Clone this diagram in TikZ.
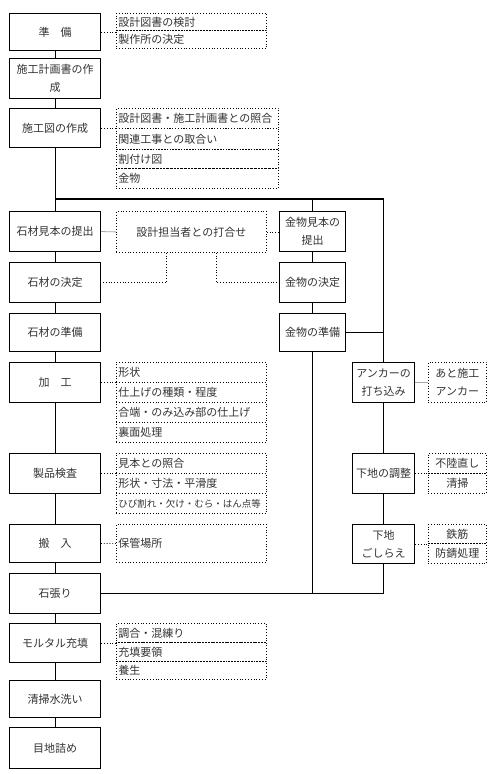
\documentclass[tikz,border=0pt]{standalone}
\usepackage{fontspec}
\newfontfamily\cjk{Noto Sans CJK JP}
\begin{document}
\begin{tikzpicture}[x=1pt,y=-1pt,
  box/.style={draw, line width=1.1pt, anchor=north west, inner sep=0pt, align=center, text=black!80, font=\cjk\fontsize{11}{18}\selectfont},
  lrow/.style={draw, dotted, line width=0.8pt, anchor=north west, inner xsep=2pt, inner ysep=0pt, text width=146pt, align=left, text=black!80, font=\cjk\fontsize{11}{14}\selectfont},
  lrowwide/.style={lrow, text width=158pt},
  rrow/.style={lrow, text width=54pt, align=center, font=\cjk\fontsize{11}{18}\selectfont},
  conn/.style={line width=1.1pt},
  dconn/.style={dotted, line width=0.8pt},
  gconn/.style={line width=0.8pt, black!35}]
\fill[white] (0,0) rectangle (500,774);
\useasboundingbox (0,0) rectangle (500,774);
% left column
\node[box, minimum width=91pt, minimum height=37pt] (b1) at (9,13) {準　備};
\node[box, minimum width=91pt, minimum height=40pt] (b2) at (9,58) {施工計画書の作\\成};
\node[box, minimum width=91pt, minimum height=39pt] (b3) at (9,108) {施工図の作成};
\node[box, minimum width=91pt, minimum height=40pt] (b4) at (9,211) {石材見本の提出};
\node[box, minimum width=91pt, minimum height=40pt] (b5) at (9,262) {石材の決定};
\node[box, minimum width=91pt, minimum height=38pt] (b6) at (9,313) {石材の準備};
\node[box, minimum width=91pt, minimum height=40pt] (b7) at (9,362) {加　工};
\node[box, minimum width=91pt, minimum height=40pt] (b8) at (9,453) {製品検査};
\node[box, minimum width=91pt, minimum height=38pt] (b9) at (9,524) {搬　入};
\node[box, minimum width=91pt, minimum height=40pt] (b10) at (9,573) {石張り};
\node[box, minimum width=91pt, minimum height=39pt] (b11) at (9,623) {モルタル充填};
\node[box, minimum width=91pt, minimum height=37pt] (b12) at (9,680) {清掃水洗い};
\node[box, minimum width=91pt, minimum height=41pt] (b13) at (9,727) {目地詰め};
% middle column
\node[box, minimum width=66pt, minimum height=40pt] (k1) at (279,211) {金物見本の\\提出};
\node[box, minimum width=66pt, minimum height=40pt] (k2) at (279,262) {金物の決定};
\node[box, minimum width=66pt, minimum height=38pt] (k3) at (279,313) {金物の準備};
% right column
\node[box, minimum width=62pt, minimum height=40pt] (r1) at (352,362) {アンカーの\\打ち込み};
\node[box, minimum width=62pt, minimum height=40pt] (r2) at (352,453) {下地の調整};
\node[box, minimum width=62pt, minimum height=39pt] (r3) at (352,524) {下地\\ごしらえ};
% lists
\node[lrow, minimum height=17pt] (l1a) at (116,13) {設計図書の検討};
\node[lrow, minimum height=18pt] (l1b) at (116,30) {製作所の決定};
\node[lrowwide, minimum height=20pt] (l3a) at (116,108) {設計図書・施工計画書との照合};
\node[lrowwide, minimum height=21pt] (l3b) at (116,128) {関連工事との取合い};
\node[lrowwide, minimum height=19pt] (l3c) at (116,149) {割付け図};
\node[lrowwide, minimum height=20pt] (l3d) at (116,168) {金物};
\node[lrow, align=center, minimum height=41pt] (meet) at (116,211) {設計担当者との打合せ};
\node[lrow, minimum height=20pt] (l7a) at (116,362) {形状};
\node[lrow, minimum height=20pt] (l7b) at (116,382) {仕上げの種類・程度};
\node[lrow, minimum height=20pt] (l7c) at (116,402) {合端・のみ込み部の仕上げ};
\node[lrow, minimum height=20pt] (l7d) at (116,422) {裏面処理};
\node[lrow, minimum height=20pt] (l8a) at (116,453) {見本との照合};
\node[lrow, minimum height=20pt] (l8b) at (116,473) {形状・寸法・平滑度};
\node[lrow, minimum height=20pt, font=\cjk\fontsize{9.5}{12}\selectfont] (l8c) at (116,493) {ひび割れ・欠け・むら・はん点等};
\node[lrow, minimum height=38pt] (l9) at (116,524) {保管場所};
\node[lrow, minimum height=19pt] (l11a) at (116,623) {調合・混練り};
\node[lrow, minimum height=19pt] (l11b) at (116,642) {充填要領};
\node[lrow, minimum height=18pt] (l11c) at (116,661) {養生};
\node[rrow, minimum height=40pt] (a1) at (428,362) {あと施工\\アンカー};
\node[rrow, minimum height=20pt] (a2a) at (428,453) {不陸直し};
\node[rrow, minimum height=20pt] (a2b) at (428,473) {清掃};
\node[rrow, minimum height=19pt] (a3a) at (428,524) {鉄筋};
\node[rrow, minimum height=20pt] (a3b) at (428,543) {防錆処理};
% main connectors
\coordinate (top) at (0,199);
\draw[conn] (b1.south) -- (b2.north);
\draw[conn] (b2.south) -- (b3.north);
\draw[conn] (b3.south) -- (b4.north);
\draw[conn] (b3.south |- top) -- (r1.north |- top) -- (r1.north);
\draw[conn] (k1.north |- top) -- (k1.north);
\draw[conn] (b4.south) -- (b5.north);
\draw[conn] (b5.south) -- (b6.north);
\draw[conn] (b6.south) -- (b7.north);
\draw[conn] (b7.south) -- (b8.north);
\draw[conn] (b8.south) -- (b9.north);
\draw[conn] (b9.south) -- (b10.north);
\draw[conn] (b10.south) -- (b11.north);
\draw[conn] (b11.south) -- (b12.north);
\draw[conn] (b12.south) -- (b13.north);
\draw[conn] (k1.south) -- (k2.north);
\draw[conn] (k2.south) -- (k3.north);
\draw[conn] (k3.east) -- (r1.north |- k3.east);
\draw[conn] (k3.south) -- (k3.south |- b10.east);
\draw[conn] (r1.south) -- (r2.north);
\draw[conn] (r2.south) -- (r3.north);
\draw[conn] (r3.south) -- (r3.south |- b10.east) -- (b10.east);
% dotted connectors
\draw[dconn] (b1.east) -- (b1.east -| l1a.west);
\draw[dconn] (b3.east) -- (b3.east -| l3a.west);
\draw[dconn] (b7.east) -- (b7.east -| l7a.west);
\draw[dconn] (b8.east) -- (b8.east -| l8a.west);
\draw[dconn] (b9.east) -- (l9.west);
\draw[dconn] (b11.east) -- (b11.east -| l11a.west);
\draw[dconn] (r2.east) -- (r2.east -| a2a.west);
\draw[dconn] (r3.east) -- (r3.east -| a3a.west);
\draw[dconn] (meet.east) -- (meet.east -| k1.west);
\draw[dconn] ([xshift=-25pt]meet.south) |- (b5.east);
\draw[dconn] ([xshift=25pt]meet.south) |- (k2.west);
\draw[gconn] (b4.east) -- (meet.west);
\draw[gconn] (r1.east) -- (a1.west);
\end{tikzpicture}
\end{document}
